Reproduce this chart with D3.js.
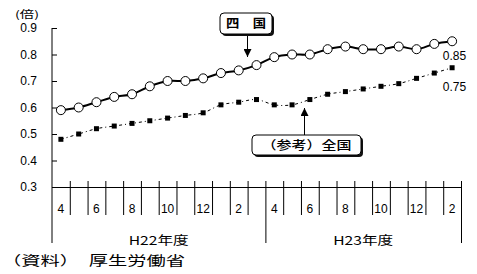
<!DOCTYPE html>
<html>
<head>
<meta charset="utf-8">
<script src="https://cdn.jsdelivr.net/npm/d3@7"></script>
<style>
  body { margin: 0; background: #fff; }
  svg text { fill: #000; }
</style>
</head>
<body>
<div id="chart"></div>
<script>
var width = 477
var height = 274

// month index labels (only even months are printed)
var monthLabels = ["4","","6","","8","","10","","12","","2","",
                   "4","","6","","8","","10","","12","","2"]
var yearLabels = ["H22年度", "H23年度"]
var yearSpans = [12, 11]
// effective job offer ratio (倍)
var shikoku = [0.59, 0.60, 0.62, 0.64, 0.65, 0.68, 0.70, 0.70, 0.71, 0.73, 0.74, 0.76,
               0.79, 0.80, 0.80, 0.82, 0.83, 0.82, 0.82, 0.83, 0.82, 0.84, 0.85]
var zenkoku = [0.48, 0.50, 0.52, 0.53, 0.54, 0.55, 0.56, 0.57, 0.58, 0.61, 0.62, 0.63,
               0.61, 0.61, 0.63, 0.65, 0.66, 0.67, 0.68, 0.69, 0.71, 0.73, 0.75]
var yTicks = [0.3, 0.4, 0.5, 0.6, 0.7, 0.8, 0.9]

var plotLeft = 52, plotRight = 461, plotTop = 28, plotBottom = 187

var svg = d3.select("#chart")
  .append("svg")
    .attr("width", width)
    .attr("height", height)

var x = d3.scaleBand()
    .domain(d3.range(monthLabels.length))
    .range([plotLeft, plotRight])
    .paddingInner(0)
var xEdge = d3.scaleLinear()
    .domain([0, monthLabels.length])
    .range([plotLeft, plotRight])
var y = d3.scaleLinear()
    .domain([0.3, 0.9])
    .range([plotBottom, plotTop])

var cx = function(d, i) { return x(i) + x.bandwidth() / 2 }

// y axis
var yAxis = svg.append("g")
    .attr("transform", "translate(" + plotLeft + ",0)")
    .call(d3.axisLeft(y)
      .tickValues(yTicks)
      .tickFormat(d3.format(".1f"))
      .tickSizeInner(-5)
      .tickSizeOuter(0)
      .tickPadding(15))
yAxis.select(".domain").remove()
yAxis.selectAll("line").attr("stroke", "#000")
yAxis.selectAll("text")
    .attr("font-family", "Liberation Sans, Arial, sans-serif")
    .attr("font-size", 12)

svg.append("line")
    .attr("x1", plotLeft).attr("x2", plotLeft)
    .attr("y1", plotTop).attr("y2", 243)
    .attr("stroke", "#000")

svg.append("text")
    .attr("x", 15).attr("y", 18)
    .attr("font-family", "Noto Sans CJK JP, sans-serif")
    .attr("font-size", 10)
    .attr("textLength", 24)
    .attr("lengthAdjust", "spacingAndGlyphs")
    .text("(倍)")

// x axis: boundary lines
var xAxis = svg.append("g")
    .attr("transform", "translate(0," + plotBottom + ")")
    .call(d3.axisBottom(xEdge)
      .tickValues(d3.range(1, monthLabels.length + 1))
      .tickFormat("")
      .tickSizeOuter(0))
xAxis.select(".domain").attr("stroke", "#000")
xAxis.selectAll(".tick line")
    .attr("stroke", "#000")
    .attr("y1", -6)
    .attr("y2", function(d) { return (d === 12 || d === 23) ? 56 : 28 })

// month labels
var mAxis = svg.append("g")
    .attr("transform", "translate(0," + plotBottom + ")")
    .call(d3.axisBottom(x)
      .tickSize(0)
      .tickPadding(17)
      .tickFormat(function(d) { return monthLabels[d] }))
mAxis.select(".domain").remove()
mAxis.selectAll("text")
    .attr("font-family", "Liberation Sans, Arial, sans-serif")
    .attr("font-size", 12)

// fiscal year labels
var start = 0
yearLabels.forEach(function(lab, k) {
  var x0 = xEdge(start), x1 = xEdge(start + yearSpans[k])
  svg.append("text")
      .attr("x", (x0 + x1) / 2 - 30)
      .attr("y", 245)
      .attr("font-family", "Noto Sans CJK JP, sans-serif")
      .attr("font-size", 12)
      .attr("textLength", 60)
      .attr("lengthAdjust", "spacingAndGlyphs")
      .text(lab)
  start += yearSpans[k]
})

// zenkoku line (dotted)
var line = d3.line()
    .x(cx)
    .y(function(d) { return y(d) })
    .curve(d3.curveCardinal.tension(0))

svg.append("path")
    .datum(zenkoku)
    .attr("d", line)
    .attr("fill", "none")
    .attr("stroke", "#000")
    .attr("stroke-width", 1)
    .attr("stroke-dasharray", "3,3,1,3")

svg.append("g")
  .selectAll("rect")
  .data(zenkoku)
  .enter()
  .append("rect")
    .attr("x", function(d, i) { return cx(d, i) - 2.5 })
    .attr("y", function(d) { return y(d) - 2.5 })
    .attr("width", 5)
    .attr("height", 5)
    .attr("fill", "#000")

// shikoku line
svg.append("path")
    .datum(shikoku)
    .attr("d", line)
    .attr("fill", "none")
    .attr("stroke", "#000")
    .attr("stroke-width", 2)

svg.append("g")
  .selectAll("circle")
  .data(shikoku)
  .enter()
  .append("circle")
    .attr("cx", cx)
    .attr("cy", function(d) { return y(d) })
    .attr("r", 4.5)
    .attr("fill", "#fff")
    .attr("stroke", "#000")
    .attr("stroke-width", 1)

// end values
var last = shikoku.length - 1
svg.append("text")
    .attr("x", cx(0, last) + 14).attr("y", y(shikoku[last]) + 19)
    .attr("text-anchor", "end")
    .attr("font-family", "Liberation Sans, Arial, sans-serif")
    .attr("font-size", 12)
    .text(d3.format(".2f")(shikoku[last]))
svg.append("text")
    .attr("x", cx(0, last) + 14).attr("y", y(zenkoku[last]) + 23)
    .attr("text-anchor", "end")
    .attr("font-family", "Liberation Sans, Arial, sans-serif")
    .attr("font-size", 12)
    .text(d3.format(".2f")(zenkoku[last]))

// callout boxes
var defs = svg.append("defs")
defs.append("marker")
    .attr("id", "arrow")
    .attr("viewBox", "0 0 8 8")
    .attr("refX", 8).attr("refY", 4)
    .attr("markerWidth", 8).attr("markerHeight", 8)
    .attr("markerUnits", "userSpaceOnUse")
    .attr("orient", "auto")
  .append("path")
    .attr("d", "M0,0L8,4L0,8Z")
    .attr("fill", "#000")

function callout(bx, by, bw, bh, label, tw, ax, ay1, ay2, weight) {
  svg.append("line")
      .attr("x1", ax).attr("x2", ax)
      .attr("y1", ay1).attr("y2", ay2)
      .attr("stroke", "#000")
      .attr("marker-end", "url(#arrow)")
  svg.append("rect")
      .attr("x", bx + 2).attr("y", by + 2)
      .attr("width", bw).attr("height", bh)
      .attr("rx", 4)
      .attr("fill", "#111")
  svg.append("rect")
      .attr("x", bx).attr("y", by)
      .attr("width", bw).attr("height", bh)
      .attr("rx", 4)
      .attr("fill", "#fff")
      .attr("stroke", "#000")
  svg.append("text")
      .attr("x", bx + bw / 2 - tw / 2).attr("y", by + bh / 2 + 4.5)
      .attr("font-family", "Noto Sans CJK JP, sans-serif")
      .attr("font-size", 12)
      .attr("font-weight", weight)
      .attr("textLength", tw)
      .attr("lengthAdjust", "spacingAndGlyphs")
      .text(label)
}
callout(220, 13, 52, 21, "四　国", 40, 247.5, 34, 57, "bold")
callout(252, 135, 109, 20, "（参考）全国", 90, 304.5, 135, 108, "500")

// source
svg.append("text")
    .attr("x", 2).attr("y", 265)
    .attr("font-family", "Noto Sans CJK JP, sans-serif")
    .attr("font-size", 13)
    .attr("textLength", 183)
    .attr("lengthAdjust", "spacingAndGlyphs")
    .text("（資料）　厚生労働省")
</script>
</body>
</html>
